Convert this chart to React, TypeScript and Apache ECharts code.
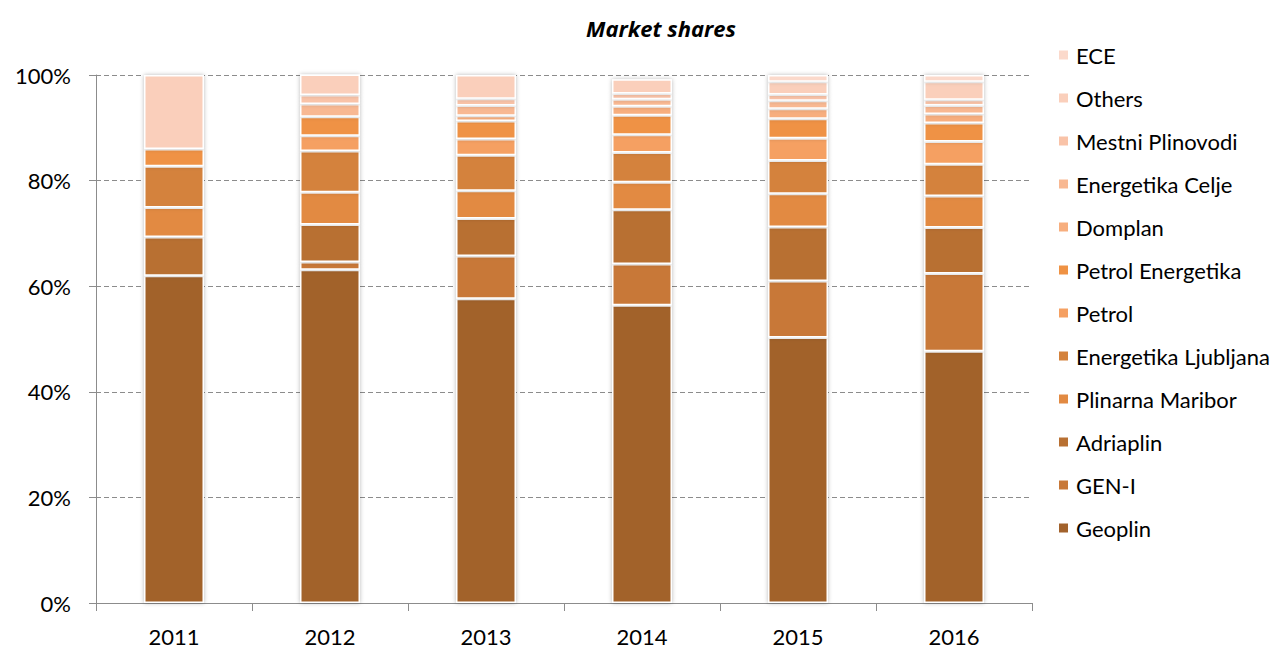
import React, { useEffect, useRef } from "react";
import * as echarts from "echarts";

const years = ["2011", "2012", "2013", "2014", "2015", "2016"];

const seriesNames = [
  "Geoplin",
  "GEN-I",
  "Adriaplin",
  "Plinarna Maribor",
  "Energetika Ljubljana",
  "Petrol",
  "Petrol Energetika",
  "Domplan",
  "Energetika Celje",
  "Mestni Plinovodi",
  "Others",
  "ECE",
];

const geoplin = [62.0, 63.1, 57.6, 56.4, 50.3, 47.7];
const genI = [0, 1.5, 8.1, 7.8, 10.7, 14.7];
const adriaplin = [7.3, 7.1, 7.1, 10.3, 10.2, 8.7];
const plinarnaMaribor = [5.6, 6.1, 5.3, 5.2, 6.3, 6.0];
const energetikaLjubljana = [7.8, 7.8, 6.7, 5.6, 6.3, 6.0];
const petrol = [0, 2.9, 3.1, 3.4, 4.2, 4.3];
const petrolEnergetika = [3.3, 3.6, 3.4, 3.7, 3.7, 3.5];
const domplan = [0, 0, 1.0, 1.7, 1.9, 1.7];
const energetikaCelje = [0, 2.4, 1.9, 1.3, 1.5, 1.6];
const mestniPlinovodi = [0, 1.7, 1.3, 1.1, 1.2, 1.1];
const others = [14.0, 3.9, 4.5, 2.7, 2.4, 3.4];
const ece = [0, 0, 0, 0, 1.3, 1.3];

const seriesValues = [
  geoplin,
  genI,
  adriaplin,
  plinarnaMaribor,
  energetikaLjubljana,
  petrol,
  petrolEnergetika,
  domplan,
  energetikaCelje,
  mestniPlinovodi,
  others,
  ece,
];

const colors = [
  "#A2622C",
  "#C87838",
  "#B87032",
  "#E28A42",
  "#D4823C",
  "#F5A062",
  "#EF9244",
  "#F7AE7E",
  "#F8B892",
  "#F9C3A8",
  "#FACFBB",
  "#FBD9CB",
];

const yTicks = [0, 20, 40, 60, 80, 100];

const FONT = "Lato, 'Open Sans', sans-serif";

export default function App() {
  const ref = useRef<HTMLDivElement>(null);

  useEffect(() => {
    if (!ref.current) return;
    const chart = echarts.init(ref.current, null, { renderer: "svg" });
    const option = {
      animation: false,
      backgroundColor: "#ffffff",
      title: {
        text: "Market shares",
        left: 656,
        textAlign: "center",
        top: 12,
        textStyle: {
          fontFamily: "'Open Sans', sans-serif",
          fontSize: 22,
          fontWeight: "bold",
          fontStyle: "italic",
          color: "#000",
        },
      },
      legend: {
        orient: "vertical",
        left: 1052,
        top: 39,
        itemWidth: 11,
        itemHeight: 11,
        itemGap: 21,
        icon: "rect",
        data: seriesNames.slice().reverse(),
        textStyle: {
          fontFamily: FONT,
          fontSize: 22,
          lineHeight: 22,
          color: "#000",
          padding: [0, 0, 0, 2],
        },
      },
      grid: {
        left: 96,
        right: 242,
        top: 75,
        bottom: 46,
      },
      xAxis: {
        type: "category",
        data: years,
        boundaryGap: true,
        axisLine: { show: true, lineStyle: { color: "#8c8c8c", width: 1 } },
        axisTick: { show: true, length: 8, alignWithLabel: false, lineStyle: { color: "#8c8c8c" } },
        axisLabel: { fontFamily: FONT, fontSize: 22, color: "#000", margin: 22 },
        splitLine: { show: false },
      },
      yAxis: {
        type: "value",
        min: yTicks[0],
        max: yTicks[yTicks.length - 1],
        interval: 20,
        axisLine: { show: true, lineStyle: { color: "#8c8c8c", width: 1 } },
        axisTick: { show: true, length: 7, lineStyle: { color: "#8c8c8c" } },
        axisLabel: {
          fontFamily: FONT,
          fontSize: 22,
          color: "#000",
          margin: 25,
          formatter: "{value}%",
        },
        splitLine: {
          show: true,
          lineStyle: { color: "#8c8c8c", type: [5, 3], width: 1 },
        },
      },
      series: seriesNames.map((name, i) => ({
        name,
        type: "bar",
        stack: "total",
        barWidth: 60,
        data: seriesValues[i].map((v) => (v === 0 ? null : v)),
        itemStyle: {
          color: colors[i],
          borderColor: "#ffffff",
          borderWidth: 1.5,
          shadowColor: "rgba(0,0,0,0.28)",
          shadowBlur: 4,
        },
        emphasis: { disabled: true },
      })),
    };
    chart.setOption(option as any);
    return () => chart.dispose();
  }, []);

  return (
    <div
      ref={ref}
      style={{ position: "fixed", left: 0, top: 0, width: 1274, height: 649 }}
    />
  );
}
